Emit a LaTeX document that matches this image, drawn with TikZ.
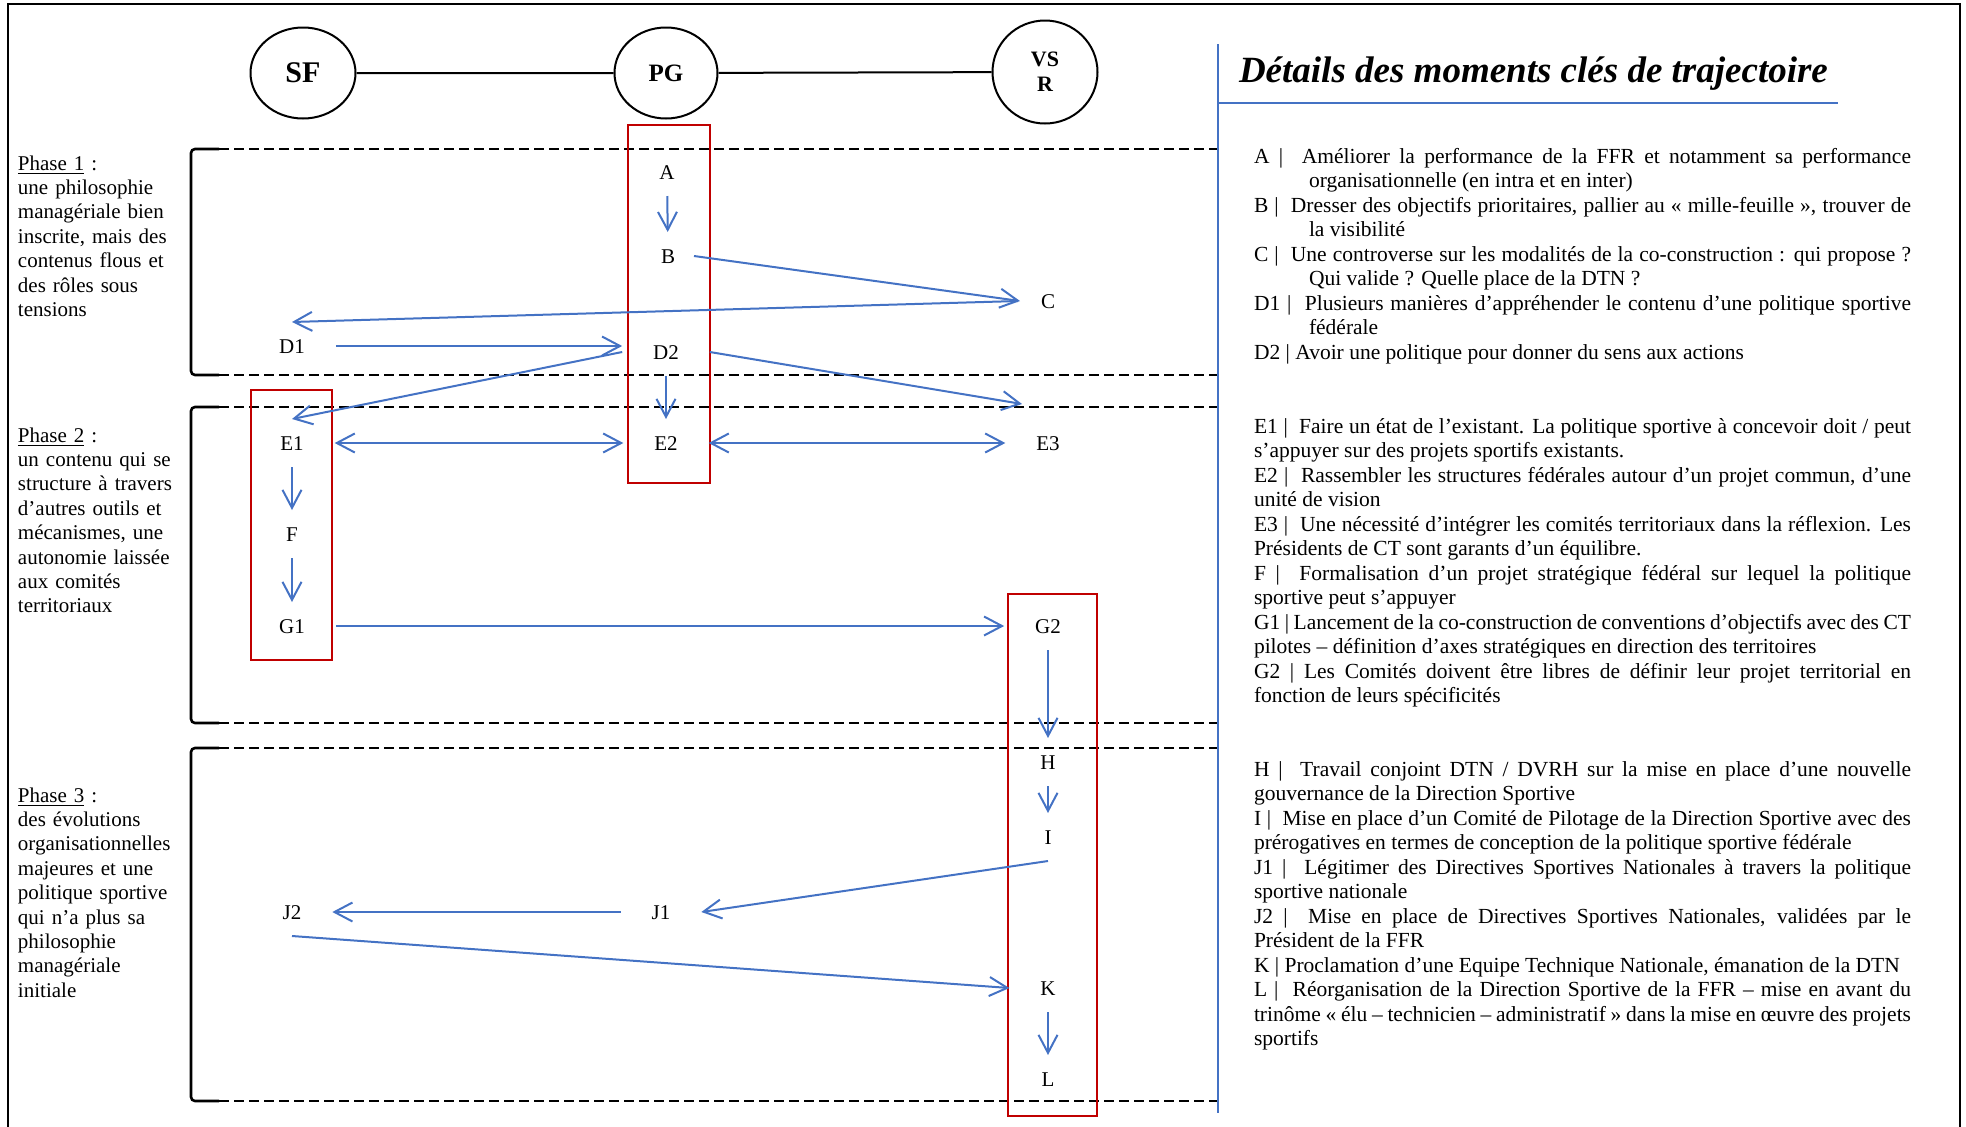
\documentclass[tikz,border=0pt]{standalone}
\usepackage{fontspec}
\setmainfont{Liberation Serif}
\usetikzlibrary{arrows.meta,calc,shapes.geometric}

\definecolor{trajblue}{RGB}{68,114,196}
\definecolor{trajred}{RGB}{192,0,0}
\hyphenpenalty=10000
\exhyphenpenalty=10000
\tolerance=9999
\newcommand{\hangitem}{\hangindent=27.5pt\hangafter=1\relax}

\begin{document}
\begin{tikzpicture}[x=0.5pt,y=-0.5pt,line width=1pt,>={Straight Barb[length=9pt,width=9.5pt]},
  every node/.style={font=\fontsize{10.5}{12.2}\selectfont},
  moment/.style={inner xsep=15pt,inner ysep=8pt,text height=7pt,text depth=0pt},
  actor/.style={ellipse,draw,line width=1pt,inner sep=0pt},
  flow/.style={trajblue,line width=1pt,->},
  phaseline/.style={line width=1.3pt,dash pattern=on 5pt off 2.5pt},
  keybox/.style={draw=trajred,line width=1.3pt},
  phasetext/.style={anchor=base west,inner sep=0pt,text width=85pt,align=left},
  detail/.style={anchor=base west,inner sep=0pt,text width=328.5pt,align=justify,
    font=\fontsize{10.75}{12.25}\selectfont}]
\useasboundingbox (0,0) rectangle (1966,1126);
\draw (8,1130) -- (8,4) -- (1960,4) -- (1960,1130);
% ---------- actors ----------
\node[actor,minimum width=52.5pt,minimum height=45.5pt,font=\fontsize{15}{18}\selectfont\bfseries] (SF) at (303,73) {SF};
\node[actor,minimum width=51.5pt,minimum height=45.5pt,font=\fontsize{12.5}{15}\selectfont\bfseries] (PG) at (666,73) {PG};
\node[actor,minimum width=52.5pt,minimum height=51.5pt,align=center,font=\fontsize{11}{12.5}\selectfont\bfseries] (VSR) at (1045,72) {VS\\R};
\draw (SF) -- (PG) -- (VSR);
% ---------- phases ----------
\foreach \ya/\yb in {149/375,407/723,748/1101}{
  \draw[line width=1.3pt,rounded corners=2pt] (219,\ya) -- (191,\ya) -- (191,\yb) -- (219,\yb);
  \draw[phaseline] (219,\ya) -- (1218,\ya);
  \draw[phaseline] (219,\yb) -- (1218,\yb);
}
\node[phasetext] (phase1) at (17,170) {\underline{Phase 1}~:\\une philosophie\\managériale bien\\inscrite, mais des\\contenus flous et\\des rôles sous\\tensions};
\node[phasetext] (phase2) at (17,442) {\underline{Phase 2}~:\\un contenu qui se\\structure à travers\\d’autres outils et\\mécanismes, une\\autonomie laissée\\aux comités\\territoriaux};
\node[phasetext] (phase3) at (17,802) {\underline{Phase 3}~:\\des évolutions\\organisationnelles\\majeures et une\\politique sportive\\qui n’a plus sa\\philosophie\\managériale\\initiale};
% ---------- red frames ----------
\draw[keybox] (628,125) rectangle (710,483);
\draw[keybox] (251,390) rectangle (332,660);
\draw[keybox] (1008,594) rectangle (1097,1116);
% ---------- key moments ----------
\node[moment] (A) at (667,172) {A};
\node[moment] (B) at (668,256) {B};
\node[moment] (C) at (1048,301) {C};
\node[moment] (D1) at (292,346) {D1};
\node[moment] (D2) at (666,352) {D2};
\node[moment] (E1) at (292,443) {E1};
\node[moment] (E2) at (666,443) {E2};
\node[moment] (E3) at (1048,443) {E3};
\node[moment] (F) at (292,534) {F};
\node[moment] (G1) at (292,626) {G1};
\node[moment] (G2) at (1048,626) {G2};
\node[moment] (H) at (1048,762) {H};
\node[moment] (I) at (1048,837) {I};
\node[moment] (J1) at (661,912) {J1};
\node[moment] (J2) at (292,912) {J2};
\node[moment] (K) at (1048,988) {K};
\node[moment] (L) at (1048,1079) {L};
\draw[flow] (A) -- (B);
\draw[flow] ([xshift=-6pt]B.east) -- ([xshift=5pt]C.west);
\draw[flow] ([xshift=4pt]C.west) -- (D1.north);
\draw[flow] (D1.east) -- (D1.east -| D2.west);
\draw[flow] (D2.west) -- (E1.north);
\draw[flow] (D2) -- (E2);
\draw[flow] (D2.east) -- ($(E3.north)+(-13pt,7.5pt)$);
\draw[flow,<->] (E1) -- (E2);
\draw[flow,<->] (E2) -- (E3);
\draw[flow] (E1) -- (F);
\draw[flow] (F) -- (G1);
\draw[flow] (G1) -- (G2);
\draw[flow] (G2) -- (H);
\draw[flow] (H) -- (I);
\draw[flow] (I.south) -- (J1.east);
\draw[flow] (J1) -- (J2);
\draw[flow] (J2.south) -- (K.west);
\draw[flow] (K) -- (L);
% ---------- details ----------
\draw[trajblue,line width=0.8pt] (1218,44) -- (1218,1113);
\node[anchor=base west,inner sep=0pt,font=\fontsize{18.5}{22}\selectfont\bfseries\itshape] (title) at (1238,82) {Détails des moments clés de trajectoire};
\draw[trajblue,line width=1pt] (1218,103) -- (1838,103);
\node[detail] (details1) at (1253,163) {%
\hangitem A |\ \ Améliorer la performance de la FFR et notamment sa performance organisationnelle (en intra et en inter)\par
\hangitem B |\ \ Dresser des objectifs prioritaires, pallier au «~mille-feuille~», trouver de la visibilité\par
\hangitem C |\ \ Une controverse sur les modalités de la co-construction~: qui propose~? Qui valide~? Quelle place de la DTN~?\par
\hangitem D1 |\ \ Plusieurs manières d’appréhender le contenu d’une politique sportive fédérale\par
\hangitem D2 |\ Avoir une politique pour donner du sens aux actions};
\node[detail] (details2) at (1253,433) {%
E1 |\ \ Faire un état de l’existant. La politique sportive à concevoir doit / peut s’appuyer sur des projets sportifs existants.\par
E2 |\ \ Rassembler les structures fédérales autour d’un projet commun, d’une unité de vision\par
E3 |\ \ Une nécessité d’intégrer les comités territoriaux dans la réflexion. Les Présidents de CT sont garants d’un équilibre.\par
F |\ \ Formalisation d’un projet stratégique fédéral sur lequel la politique sportive peut s’appuyer\par
G1 | Lancement de la co-construction de conventions d’objectifs avec des CT pilotes – définition d’axes stratégiques en direction des territoires\par
G2 | Les Comités doivent être libres de définir leur projet territorial en fonction de leurs spécificités};
\node[detail] (details3) at (1253,776) {%
H |\ \ Travail conjoint DTN / DVRH sur la mise en place d’une nouvelle gouvernance de la Direction Sportive\par
I |\ \ Mise en place d’un Comité de Pilotage de la Direction Sportive avec des prérogatives en termes de conception de la politique sportive fédérale\par
J1 |\ \ Légitimer des Directives Sportives Nationales à travers la politique sportive nationale\par
J2 |\ \ Mise en place de Directives Sportives Nationales, validées par le Président de la FFR\par
K |\ Proclamation d’une Equipe Technique Nationale, émanation de la DTN\par
L |\ \ Réorganisation de la Direction Sportive de la FFR – mise en avant du trinôme «~élu – technicien – administratif~» dans la mise en œuvre des projets sportifs};
\end{tikzpicture}
\end{document}
